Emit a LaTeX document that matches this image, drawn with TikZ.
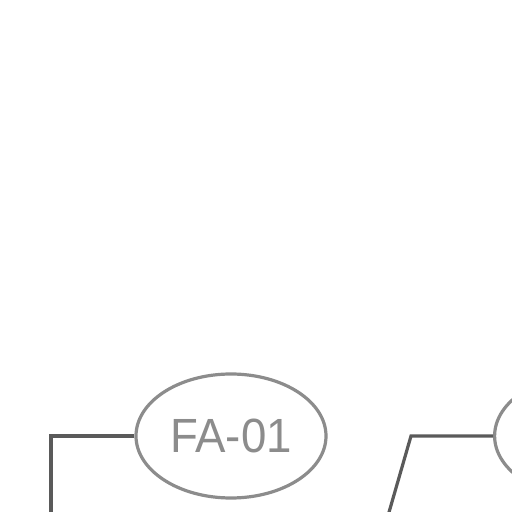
\documentclass[tikz,border=0pt]{standalone}
\usepackage{fontspec}
\setmainfont{Liberation Sans}
\usetikzlibrary{shapes.geometric}
\definecolor{ellgray}{RGB}{140,140,140}
\definecolor{linegray}{RGB}{90,90,90}
\tikzset{
  tag/.style={ellipse, draw=ellgray, line width=3.2pt, minimum width=190pt, minimum height=124pt, inner sep=0pt, text=ellgray, font=\fontsize{48}{48}\selectfont},
  wire/.style={draw=linegray, line width=3.2pt}
}
\begin{document}
\begin{tikzpicture}[x=1pt,y=1pt]
\useasboundingbox (0,0) rectangle (512,512);
\fill[white] (0,0) rectangle (512,512);
\node[tag] (fa) at (231,76) {\scalebox{0.95}[1]{FA-01}};
\node[tag, anchor=west] (fb) at (493,76) {};
\coordinate (c1) at (51,76);
\coordinate (e1) at (51,-2);
\coordinate (c2) at (411,76);
\coordinate (e2) at (388.5,-2);
\draw[wire] (fa.west) -- (c1) -- (e1);
\draw[wire] (fb.west) -- (c2) -- (e2);
\end{tikzpicture}
\end{document}
